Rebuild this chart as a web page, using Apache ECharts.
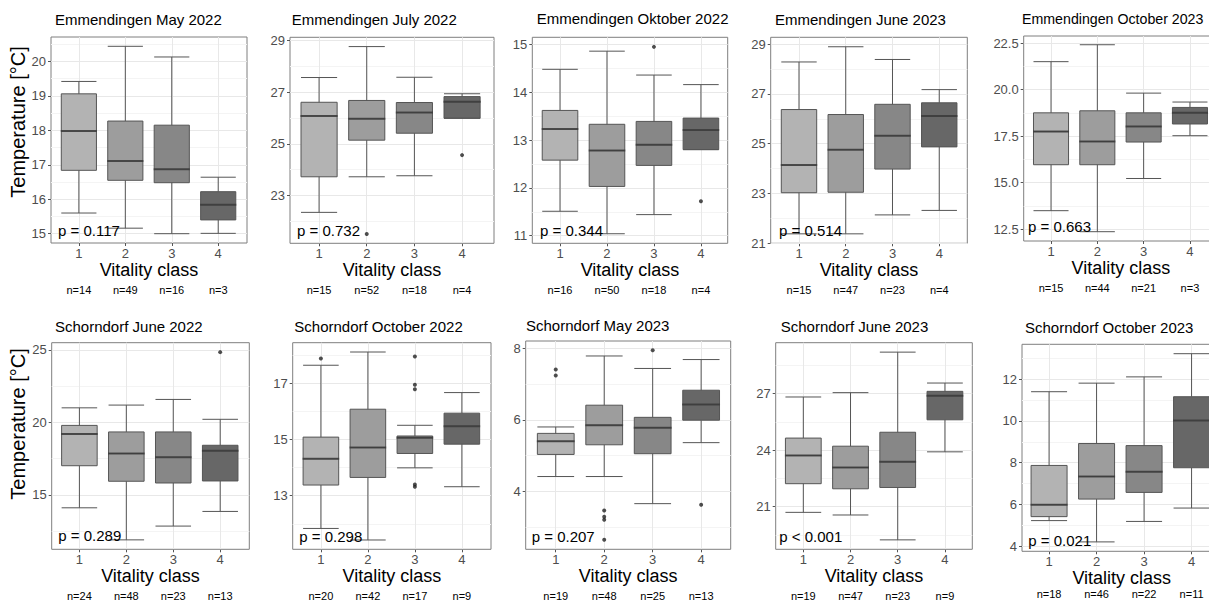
<!DOCTYPE html>
<html><head><meta charset="utf-8">
<script src="https://cdn.jsdelivr.net/npm/echarts@6/dist/echarts.min.js"></script>
<style>html,body{margin:0;padding:0;background:#fff;overflow:hidden}#c{width:1209px;height:602px}</style>
</head><body><div id="c"></div>
<script>
// ---------- DATA ----------
const categories = ['1', '2', '3', '4'];
const panelTitles = ['Emmendingen May 2022', 'Emmendingen July 2022', 'Emmendingen Oktober 2022', 'Emmendingen June 2023', 'Emmendingen October 2023',
  'Schorndorf June 2022', 'Schorndorf October 2022', 'Schorndorf May 2023', 'Schorndorf June 2023', 'Schorndorf October 2023'];
const pValues = ['p = 0.117', 'p = 0.732', 'p = 0.344', 'p = 0.514', 'p = 0.663', 'p = 0.289', 'p = 0.298', 'p = 0.207', 'p < 0.001', 'p = 0.021'];
const nCounts = [[14, 49, 16, 3], [15, 52, 18, 4], [16, 50, 18, 4], [15, 47, 23, 4], [15, 44, 21, 3],
  [24, 48, 23, 13], [20, 42, 17, 9], [19, 48, 25, 13], [19, 47, 23, 9], [18, 46, 22, 11]];
const yAxisTitle = 'Temperature [°C]';
const xAxisTitle = 'Vitality class';

// box statistics per vitality class: [lower whisker, Q1, median, Q3, upper whisker]
const boxEmmMay22 = [[15.60, 16.84, 17.98, 19.06, 19.42], [15.16, 16.55, 17.11, 18.27, 20.44], [15.00, 16.48, 16.87, 18.15, 20.13], [15.01, 15.40, 15.84, 16.22, 16.64]];
const boxEmmJul22 = [[22.34, 23.72, 26.08, 26.61, 27.57], [23.72, 25.14, 25.97, 26.68, 28.77], [23.76, 25.41, 26.21, 26.60, 27.58], [25.99, 25.99, 26.63, 26.83, 26.94]];
const boxEmmOct22 = [[11.51, 12.58, 13.23, 13.62, 14.48], [11.04, 12.03, 12.78, 13.33, 14.86], [11.44, 12.47, 12.90, 13.39, 14.36], [12.80, 12.80, 13.21, 13.46, 14.16]];
const boxEmmJun23 = [[21.38, 23.03, 24.14, 26.37, 28.28], [21.38, 23.05, 24.76, 26.17, 28.89], [22.14, 23.98, 25.32, 26.58, 28.38], [22.32, 24.87, 26.11, 26.64, 27.17]];
const boxEmmOct23 = [[13.49, 15.96, 17.74, 18.75, 21.50], [12.36, 15.96, 17.21, 18.86, 22.41], [15.22, 17.18, 18.02, 18.75, 19.81], [17.52, 18.15, 18.75, 19.04, 19.33]];
const boxSchJun22 = [[14.11, 17.01, 19.20, 19.79, 21.00], [11.90, 15.94, 17.85, 19.34, 21.19], [12.85, 15.82, 17.60, 19.34, 21.58], [13.86, 15.96, 18.04, 18.42, 20.21]];
const boxSchOct22 = [[11.84, 13.38, 14.31, 15.08, 17.63], [11.43, 13.65, 14.71, 16.07, 18.10], [13.99, 14.50, 15.06, 15.12, 15.50], [13.32, 14.83, 15.47, 15.93, 16.66]];
const boxSchMay23 = [[4.41, 5.03, 5.40, 5.62, 5.80], [4.41, 5.30, 5.85, 6.41, 7.79], [3.65, 5.05, 5.78, 6.07, 7.44], [5.36, 5.99, 6.43, 6.83, 7.69]];
const boxSchJun23 = [[20.70, 22.22, 23.72, 24.64, 26.82], [20.56, 21.95, 23.08, 24.21, 27.05], [19.24, 22.02, 23.38, 24.95, 29.20], [23.91, 25.61, 26.89, 27.12, 27.56]];
const boxSchOct23 = [[5.23, 5.42, 5.99, 7.87, 11.40], [4.21, 6.26, 7.34, 8.92, 11.81], [5.19, 6.58, 7.57, 8.82, 12.11], [5.83, 7.76, 10.02, 11.16, 13.22]];

// outliers: [vitality class, temperature]
const outEmmMay22 = [];
const outEmmJul22 = [[2, 21.50], [4, 24.56]];
const outEmmOct22 = [[3, 14.95], [4, 11.72]];
const outEmmJun23 = [];
const outEmmOct23 = [];
const outSchJun22 = [[4, 24.84]];
const outSchOct22 = [[1, 17.87], [3, 17.94], [3, 16.94], [3, 16.78], [3, 13.40], [3, 13.32]];
const outSchMay23 = [[1, 7.41], [1, 7.24], [2, 3.46], [2, 3.28], [2, 3.20], [2, 2.64], [3, 7.95], [4, 3.62]];
const outSchJun23 = [];
const outSchOct23 = [];

// y tick labels per panel
const yTickLabels = [
  ['15', '16', '17', '18', '19', '20'],
  ['23', '25', '27', '29'],
  ['11', '12', '13', '14', '15'],
  ['21', '23', '25', '27', '29'],
  ['12.5', '15.0', '17.5', '20.0', '22.5'],
  ['15', '20', '25'],
  ['13', '15', '17'],
  ['4', '6', '8'],
  ['21', '24', '27'],
  ['4', '6', '8', '10', '12']
];
const yRanges = [[14.73, 20.71], [21.14, 29.13], [10.84, 15.15], [21.00, 29.27], [11.86, 22.88],
  [11.25, 25.49], [11.10, 18.43], [2.37, 8.21], [18.74, 29.70], [3.76, 13.67]];

const boxData = [boxEmmMay22, boxEmmJul22, boxEmmOct22, boxEmmJun23, boxEmmOct23, boxSchJun22, boxSchOct22, boxSchMay23, boxSchJun23, boxSchOct23];
const outlierData = [outEmmMay22, outEmmJul22, outEmmOct22, outEmmJun23, outEmmOct23, outSchJun22, outSchOct22, outSchMay23, outSchJun23, outSchOct23];

// ---------- LAYOUT / STYLE ----------
const xRanges = [[0.4, 4.62], [0.39, 4.67], [0.41, 4.57], [0.395, 4.6], [0.41, 4.61],
  [0.41, 4.62], [0.4, 4.62], [0.38, 4.61], [0.415, 4.58], [0.43, 4.63]];
const gridBoxes = [
  [51, 37, 196, 206], [290, 37.3, 204, 206], [532.3, 37.3, 195.4, 206], [770.7, 37.3, 196.6, 206], [1023.7, 36, 194.5, 205],
  [51.7, 342.7, 197.6, 206.6], [292.7, 342.7, 198.3, 206.6], [525.7, 341, 205, 208.3], [775.7, 342.7, 196.6, 206.6], [1022, 344.3, 199.5, 207]
];
const nOffsets = [37, 37, 37, 37, 37, 37, 37, 37, 37, 33];
const nameGaps = [18, 18, 18, 18, 18, 18, 18, 18, 18, 16];
const titlePos = [[55, 12], [291.7, 12], [536.7, 11], [775, 12], [1022, 12], [55, 319], [294.3, 319], [526, 318], [780.7, 319], [1025, 320]];
const titleSize = [15, 15, 15, 15, 14.2, 15, 15, 15, 15, 15];
const pPos = [[58, 230], [297, 230], [540, 230], [779, 230], [1028, 226], [58.3, 535], [299.3, 536], [531.7, 536], [779.3, 536], [1028.3, 540]];
const yTitlePos = [[18, 122], [18, 424]];
const fills = ['#b3b3b3', '#9d9d9d', '#878787', '#676767'];
const FONT = '"Liberation Sans", Arial, sans-serif';

const option = { animation: false, textStyle: { fontFamily: FONT }, title: [], grid: [], xAxis: [], yAxis: [], series: [], graphic: [] };

for (let i = 0; i < 10; i++) {
  const [gl, gt, gw, gh] = gridBoxes[i];
  const [xmin, xmax] = xRanges[i];
  const [ymin, ymax] = yRanges[i];
  const ticks = yTickLabels[i].map(Number);
  const step = ticks[1] - ticks[0];
  const minor = [];
  for (let k = -1; k < ticks.length; k++) {
    const m = (k < 0 ? ticks[0] - step / 2 : ticks[k] + step / 2);
    if (m > ymin && m < ymax) minor.push(m);
  }
  const catVals = categories.map(Number);
  const bw = gw / (xmax - xmin) * 0.8 - 2;

  option.title.push({
    text: panelTitles[i], left: titlePos[i][0], top: titlePos[i][1], padding: 0,
    textStyle: { fontSize: titleSize[i], fontWeight: 'normal', color: '#000', fontFamily: FONT }
  });
  option.grid.push({ left: gl, top: gt, width: gw, height: gh, show: true, borderColor: '#7f7f7f', borderWidth: 1, backgroundColor: '#fff', containLabel: false, outerBoundsMode: 'none' });
  option.xAxis.push({
    gridIndex: i, type: 'value', min: xmin, max: xmax, position: 'bottom',
    axisLine: { show: false },
    axisTick: { show: true, length: 3, lineStyle: { color: '#555' }, customValues: catVals },
    axisLabel: { customValues: catVals, formatter: v => categories[Math.round(v) - 1], margin: 4, fontSize: 13, color: '#4d4d4d', fontFamily: FONT },
    splitLine: { show: false },
    name: xAxisTitle, nameLocation: 'middle', nameGap: nameGaps[i], nameTextStyle: { fontSize: 18, color: '#000', fontFamily: FONT }
  });
  option.xAxis.push({
    gridIndex: i, type: 'value', min: xmin, max: xmax, position: 'bottom', offset: nOffsets[i],
    axisLine: { show: false }, axisTick: { show: false }, splitLine: { show: false },
    axisLabel: { customValues: catVals, formatter: v => 'n=' + nCounts[i][Math.round(v) - 1], margin: 4, fontSize: 11, color: '#000', fontFamily: FONT }
  });
  option.yAxis.push({
    gridIndex: i, type: 'value', min: ymin, max: ymax,
    axisLine: { show: false },
    axisTick: { show: true, length: 3, lineStyle: { color: '#555' }, customValues: ticks },
    axisLabel: { customValues: ticks, formatter: v => yTickLabels[i][ticks.indexOf(v)] ?? String(v), margin: 5, fontSize: 13, color: '#4d4d4d', fontFamily: FONT },
    splitLine: { show: false }
  });

  const gridLines = [];
  minor.forEach(m => gridLines.push({ yAxis: m, lineStyle: { color: '#f4f4f4', width: 1, type: 'solid' } }));
  ticks.forEach(t => gridLines.push({ yAxis: t, lineStyle: { color: '#e8e8e8', width: 1, type: 'solid' } }));
  catVals.forEach(c => gridLines.push({ xAxis: c, lineStyle: { color: '#e8e8e8', width: 1, type: 'solid' } }));

  option.series.push({
    type: 'boxplot', xAxisIndex: 2 * i, yAxisIndex: i, z: 3,
    boxWidth: [bw, bw],
    itemStyle: { borderColor: '#555', borderWidth: 1 },
    emphasis: { disabled: true },
    data: boxData[i].map((b, k) => ({ value: [catVals[k]].concat(b), itemStyle: { color: fills[k], borderColor: '#555' } })),
    markLine: { silent: true, symbol: ['none', 'none'], label: { show: false }, z: 1, animation: false, data: gridLines }
  });
  option.series.push({
    type: 'scatter', xAxisIndex: 2 * i, yAxisIndex: i, z: 4, silent: true,
    symbol: 'rect', symbolSize: [bw + 1, 2], itemStyle: { color: '#3a3a3a' },
    data: boxData[i].map((b, k) => [catVals[k], b[2]])
  });
  option.series.push({
    type: 'scatter', xAxisIndex: 2 * i, yAxisIndex: i, z: 5, silent: true,
    symbol: 'circle', symbolSize: 4, itemStyle: { color: '#222' },
    data: outlierData[i]
  });
  option.graphic.push({
    type: 'text', x: pPos[i][0], y: pPos[i][1], z: 100,
    style: { text: pValues[i], fontSize: 15, fontFamily: FONT, fill: '#000', align: 'left', verticalAlign: 'middle' }
  });
}
yTitlePos.forEach(p => option.graphic.push({
  type: 'text', x: p[0], y: p[1], rotation: Math.PI / 2, z: 100,
  style: { text: yAxisTitle, fontSize: 20, fontFamily: FONT, fill: '#000', align: 'center', verticalAlign: 'middle' }
}));

const chart = echarts.init(document.getElementById('c'), null, { renderer: 'svg', width: 1209, height: 602 });
chart.setOption(option);
</script>
</body></html>
